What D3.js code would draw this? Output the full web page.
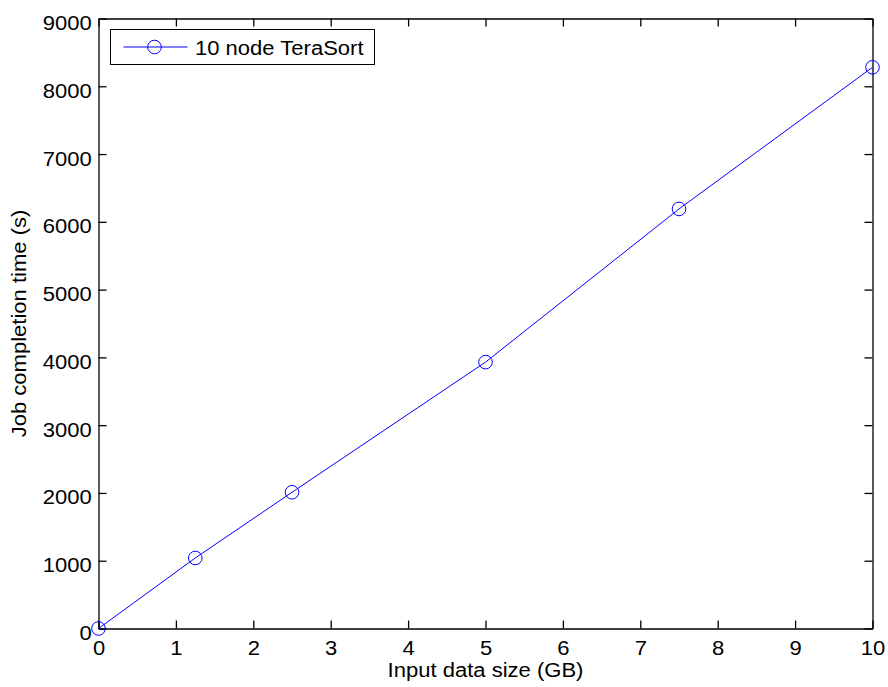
<!DOCTYPE html>
<html lang="en">
<head>
  <meta charset="UTF-8" />
  <title>10 node TeraSort</title>
  <script src="https://d3js.org/d3.v7.min.js"></script>
  <style>
    body { margin: 0; background: #fff; }
    svg text { font-family: "Liberation Sans", Arial, sans-serif; fill: #000; }
  </style>
</head>
<body>
  <svg id="chart" width="888" height="687"></svg>
  <script>
    // data
    const inputSizes = [0, 1.25, 2.5, 5, 7.5, 10];
    const completionTimes = [0, 1040, 2010, 3930, 6190, 8280];
    const xTicks = [0, 1, 2, 3, 4, 5, 6, 7, 8, 9, 10];
    const yTicks = [0, 1000, 2000, 3000, 4000, 5000, 6000, 7000, 8000, 9000];
    const seriesName = "10 node TeraSort";

    const svg = d3.select("#chart"),
          margin = {top: 18.5, right: 15.5, bottom: 58.5, left: 98.5},
          width = 888 - margin.left - margin.right,
          height = 687 - margin.top - margin.bottom;

    const fontSize = 19.5, stretch = 1.13, tickLen = 8;

    const chart = svg.append("g")
        .attr("transform", `translate(${margin.left},${margin.top})`);

    const x = d3.scaleLinear().domain([0, 10]).range([0, width]);
    const y = d3.scaleLinear().domain([0, 9000]).range([height, 0]);

    // Bottom axis
    const xAxis = chart.append("g")
        .attr("transform", `translate(0,${height})`)
        .call(d3.axisBottom(x).tickValues(xTicks).tickSizeInner(-tickLen).tickSizeOuter(0).tickFormat(d3.format("d")));
    xAxis.selectAll("text")
        .attr("y", null).attr("dy", null)
        .attr("transform", `translate(0,26.5) scale(${stretch},1)`);

    // Left axis
    const yAxis = chart.append("g")
        .call(d3.axisLeft(y).tickValues(yTicks).tickSizeInner(-tickLen).tickSizeOuter(0).tickFormat(d3.format("d")));
    yAxis.selectAll("text")
        .attr("x", null).attr("dy", null)
        .attr("transform", `translate(-6.8,11) scale(${stretch},1)`);

    // Mirror ticks on top and right
    const xTop = chart.append("g")
        .call(d3.axisTop(x).tickValues(xTicks).tickSizeInner(-tickLen).tickSizeOuter(0).tickFormat(""));
    const yRight = chart.append("g")
        .attr("transform", `translate(${width},0)`)
        .call(d3.axisRight(y).tickValues(yTicks).tickSizeInner(-tickLen).tickSizeOuter(0).tickFormat(""));

    [xAxis, yAxis, xTop, yRight].forEach(g => {
      g.attr("font-size", null).attr("font-family", null);
      g.selectAll("path, line").attr("stroke", "#000").attr("stroke-width", 1.3);
      g.selectAll("text").attr("font-size", fontSize + "px").attr("fill", "#000");
    });

    // Series line
    const pts = inputSizes.map((v, i) => [v, completionTimes[i]]);
    chart.append("path")
        .datum(pts)
        .attr("fill", "none")
        .attr("stroke", "#0000ff")
        .attr("stroke-width", 1)
        .attr("d", d3.line().x(d => x(d[0])).y(d => y(d[1])));

    chart.selectAll(".marker")
        .data(pts)
        .enter().append("circle")
          .attr("class", "marker")
          .attr("cx", d => x(d[0]))
          .attr("cy", d => y(d[1]))
          .attr("r", 6.8)
          .attr("fill", "none")
          .attr("stroke", "#0000ff")
          .attr("stroke-width", 1);

    // Legend
    const legend = svg.append("g").attr("transform", "translate(110.5,29.5)");
    legend.append("rect")
        .attr("width", 264).attr("height", 35)
        .attr("fill", "#fff").attr("stroke", "#000").attr("stroke-width", 1);
    legend.append("line")
        .attr("x1", 13).attr("x2", 77).attr("y1", 17.5).attr("y2", 17.5)
        .attr("stroke", "#0000ff").attr("stroke-width", 1);
    legend.append("circle")
        .attr("cx", 44).attr("cy", 17.5).attr("r", 6.8)
        .attr("fill", "none").attr("stroke", "#0000ff").attr("stroke-width", 1);
    legend.append("text")
        .attr("transform", `translate(84.5,25.5) scale(${stretch},1)`)
        .attr("font-size", fontSize + "px")
        .text(seriesName);

    // Axis labels
    svg.append("text")
        .attr("transform", `translate(${margin.left + width / 2},677) scale(${stretch},1)`)
        .attr("text-anchor", "middle")
        .attr("font-size", fontSize + "px")
        .text("Input data size (GB)");

    svg.append("text")
        .attr("transform", `translate(26,${margin.top + height / 2}) rotate(-90) scale(${stretch},1)`)
        .attr("text-anchor", "middle")
        .attr("font-size", fontSize + "px")
        .text("Job completion time (s)");
  </script>
</body>
</html>
